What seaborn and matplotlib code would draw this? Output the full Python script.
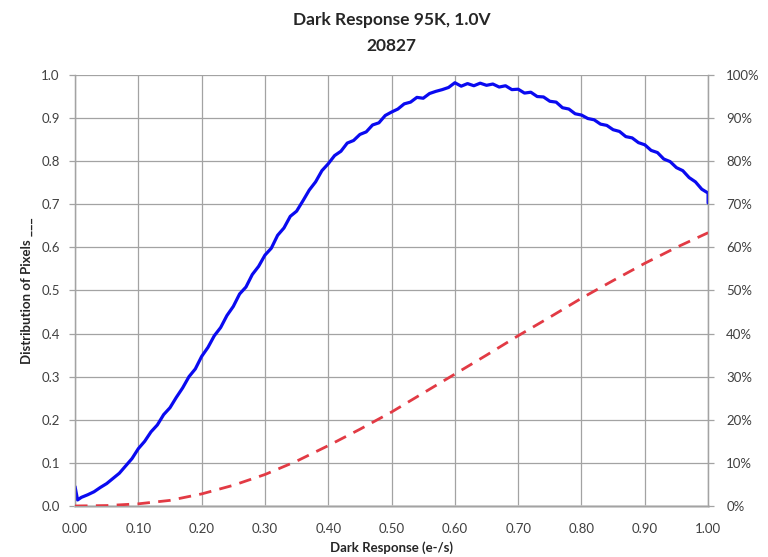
import matplotlib
matplotlib.use("Agg")
import matplotlib.pyplot as plt
from matplotlib.ticker import FuncFormatter, MultipleLocator
import seaborn as sns
import pandas as pd

# Distribution of pixels vs dark response (left axis)
dist_x = [0.000, 0.004] + [round(0.01 * i, 2) for i in range(1, 101)] + [1.000]
dist_y = [0.045, 0.014,
          0.020, 0.026, 0.033, 0.043, 0.052, 0.064, 0.076, 0.093, 0.110, 0.133,
          0.150, 0.172, 0.188, 0.212, 0.228, 0.252, 0.274, 0.300, 0.318, 0.347,
          0.368, 0.395, 0.414, 0.442, 0.463, 0.492, 0.508, 0.537, 0.556, 0.582,
          0.598, 0.628, 0.645, 0.672, 0.684, 0.708, 0.733, 0.752, 0.778, 0.794,
          0.813, 0.823, 0.842, 0.848, 0.862, 0.868, 0.884, 0.889, 0.906, 0.914,
          0.921, 0.933, 0.937, 0.948, 0.946, 0.957, 0.962, 0.966, 0.971, 0.982,
          0.974, 0.980, 0.975, 0.981, 0.976, 0.979, 0.972, 0.975, 0.966, 0.967,
          0.958, 0.960, 0.950, 0.949, 0.939, 0.937, 0.924, 0.921, 0.910, 0.907,
          0.899, 0.896, 0.886, 0.883, 0.873, 0.869, 0.857, 0.854, 0.843, 0.838,
          0.825, 0.820, 0.805, 0.799, 0.785, 0.778, 0.762, 0.752, 0.735, 0.726,
          0.703]

# Cumulative fraction of pixels (right axis)
cum_x = [0.00, 0.05, 0.10, 0.15, 0.20, 0.25, 0.30, 0.35, 0.40, 0.45, 0.50,
         0.55, 0.60, 0.65, 0.70, 0.75, 0.80, 0.85, 0.90, 0.95, 1.00]
cum_y = [0.000, 0.001, 0.005, 0.013, 0.028, 0.048, 0.073, 0.104, 0.140, 0.178,
         0.218, 0.262, 0.306, 0.350, 0.395, 0.438, 0.482, 0.523, 0.563, 0.600,
         0.634]

x_ticks = [0.0, 0.1, 0.2, 0.3, 0.4, 0.5, 0.6, 0.7, 0.8, 0.9, 1.0]
title_lines = ["Dark Response 95K, 1.0V", "20827"]

sns.set_theme(style="white")
plt.rcParams["font.family"] = ["Lato", "DejaVu Sans"]

fig = plt.figure(figsize=(7.68, 5.57), dpi=100)
ax = fig.add_axes([0.0977, 0.0916, 0.8243, 0.7738])

dist_df = pd.DataFrame({"x": dist_x, "y": dist_y})
cum_df = pd.DataFrame({"x": cum_x, "y": cum_y})

grid_c = "#a3a3a3"
ax.set_xlim(0, 1)
ax.set_ylim(0, 1)
ax.set_xticks(x_ticks)
ax.yaxis.set_major_locator(MultipleLocator(0.1))
ax.grid(True, color=grid_c, linewidth=0.9)
ax.set_axisbelow(True)

sns.lineplot(data=dist_df, x="x", y="y", ax=ax, estimator=None, sort=False,
             color="#0a0af0", linewidth=2.3, zorder=3)

ax2 = ax.twinx()
ax2.set_ylim(0, 1)
ax2.yaxis.set_major_locator(MultipleLocator(0.1))
ax2.yaxis.set_major_formatter(FuncFormatter(lambda v, p: f"{v * 100:.0f}%"))
sns.lineplot(data=cum_df, x="x", y="y", ax=ax2, color="#e23a44",
             linewidth=2.0, linestyle=(0, (4.5, 3)), zorder=3)
ax2.set_xlim(0, 1)
ax2.set_ylabel("")
ax2.set_xlabel("")

ax.xaxis.set_major_formatter(FuncFormatter(lambda v, p: f"{v:.2f}"))
ax.yaxis.set_major_formatter(FuncFormatter(lambda v, p: f"{v:.1f}"))

for a in (ax, ax2):
    for s in a.spines.values():
        s.set_color(grid_c)
        s.set_linewidth(0.9)
    a.spines["top"].set_visible(False)
    a.tick_params(length=4, width=0.9, color=grid_c, labelsize=9.5,
                  labelcolor="#404040", pad=3)
ax.spines["bottom"].set_color("#c8c8c8")
ax.spines["bottom"].set_linewidth(1.8)
ax.tick_params(axis="y", pad=7)
ax2.tick_params(axis="y", pad=9)
ax.tick_params(axis="x", pad=8)

ax.set_xlabel("Dark Response (e-/s)", fontsize=9.5, fontweight="bold",
              color="#262626", labelpad=5)
ax.set_ylabel("Distribution of Pixels ___", fontsize=9.5, fontweight="bold",
              color="#262626", labelpad=6)

cx = 0.0977 + 0.8243 / 2
fig.text(cx, 1 - 20 / 557, title_lines[0], ha="center", va="center",
         fontsize=12.5, fontweight="bold", color="#262626")
fig.text(cx, 1 - 46 / 557, title_lines[1], ha="center", va="center",
         fontsize=12.5, fontweight="bold", color="#262626")

fig.savefig("out.png", dpi=100)
